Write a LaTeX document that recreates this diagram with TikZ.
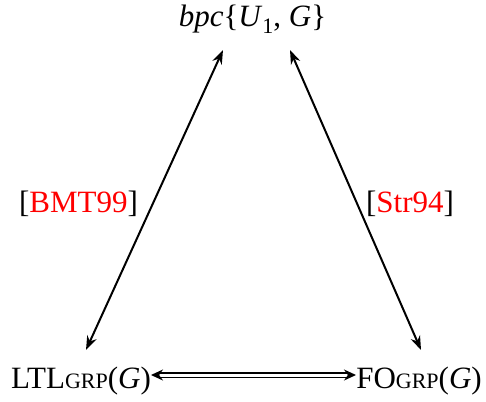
\documentclass[tikz,border=0pt]{standalone}
\usepackage{fontspec}
\setmainfont{LiberationSerif}[Extension=.ttf, UprightFont=*-Regular, ItalicFont=*-Italic, BoldFont=*-Bold, BoldItalicFont=*-BoldItalic]
\usetikzlibrary{arrows.meta}
\newcommand\mygrp{{\fontsize{11}{11}\selectfont GRP}}
\newcommand\mysub[1]{\raisebox{-0.22em}{\fontsize{11}{11}\selectfont #1}}
\tikzset{
  lbl/.style={anchor=base, inner sep=0pt, font=\fontsize{15.5}{18}\selectfont},
  conn/.style={line width=1pt, {Stealth[length=7pt,width=5pt]}-{Stealth[length=7pt,width=5pt]}},
  dconn/.style={double, line width=0.75pt, double distance=1.5pt, {Stealth[length=6pt,width=5.5pt]}-{Stealth[length=6pt,width=5.5pt]}},
}
\begin{document}
\begin{tikzpicture}[x=0.5pt,y=-0.5pt]
\useasboundingbox (0,0) rectangle (486,401);
\node[lbl] (top) at (252.5,27) {\textit{bpc}\{\textit{U}\mysub{1}, \textit{G}\}};
\node[lbl] (ltl) at (81,388) {LTL\mygrp(\textit{G})};
\node[lbl] (fo) at (419,388) {FO\mygrp(\textit{G})};
\node[lbl] (bmt) at (78.5,212) {[\textcolor{red}{BMT99}]};
\node[lbl] (str) at (410,212) {[\textcolor{red}{Str94}]};
\coordinate (t1) at (223,50);
\coordinate (t2) at (290,50);
\coordinate (l1) at (86,350);
\coordinate (r1) at (421,350);
\coordinate (h1) at (151,375);
\coordinate (h2) at (356,375);
\draw[conn] (l1) -- (t1);
\draw[conn] (t2) -- (r1);
\draw[dconn] (h1) -- (h2);
\end{tikzpicture}
\end{document}
